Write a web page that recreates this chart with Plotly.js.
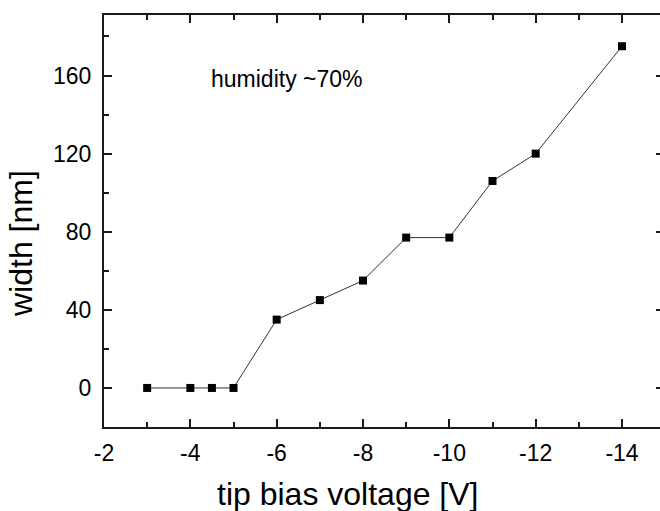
<!DOCTYPE html>
<html>
<head>
<meta charset="utf-8">
<script src="https://cdn.plot.ly/plotly-3.0.1.min.js"></script>
<style>
html, body { margin:0; padding:0; overflow:hidden; background:#fff; }
#chart { width:660px; height:511px; }
</style>
</head>
<body>
<div id="chart"></div>
<script>
// Data
const voltage = [-3, -4, -4.5, -5, -6, -7, -8, -9, -10, -11, -12, -14];
const width_nm = [0, 0, 0, 0, 35, 45, 55, 77, 77, 106, 120, 175];
const xTickVals = [-2, -4, -6, -8, -10, -12, -14];
const yTickVals = [0, 40, 80, 120, 160];
const xTitle = 'tip bias voltage [V]';
const yTitle = 'width [nm]';
const noteText = 'humidity ~70%';

const FONT = 'Liberation Sans, Arial, Helvetica, sans-serif';
const AX = '#1a1a1a';

const trace = {
  x: voltage,
  y: width_nm,
  type: 'scatter',
  mode: 'lines+markers',
  line: { color: '#333333', width: 1 },
  marker: { symbol: 'square', size: 8, color: '#000000' },
  showlegend: false,
  hoverinfo: 'x+y'
};

// carrier for the (cropped) right-hand axis ticks; draws no marks
const rightAxisCarrier = {
  x: voltage,
  y: width_nm,
  yaxis: 'y2',
  type: 'scatter',
  mode: 'none',
  showlegend: false,
  hoverinfo: 'skip'
};

const layout = {
  width: 660,
  height: 511,
  margin: { l: 104, r: 0, t: 15, b: 84 },
  paper_bgcolor: '#fff',
  plot_bgcolor: '#fff',
  font: { family: FONT, color: '#000' },
  xaxis: {
    range: [-2, -14.88],
    showgrid: false, zeroline: false,
    showline: true, linecolor: AX, linewidth: 2, mirror: 'ticks',
    ticks: 'inside', ticklen: 8, tickwidth: 2, tickcolor: AX,
    tickmode: 'array', tickvals: xTickVals, ticktext: xTickVals.map(String),
    tickfont: { family: FONT, size: 23, color: '#000' },
    ticklabelstandoff: 4,
    minor: { dtick: 1, tick0: -2, ticks: 'inside', ticklen: 5, tickwidth: 2, tickcolor: AX }
  },
  yaxis: {
    range: [-20, 191],
    showgrid: false, zeroline: false,
    showline: true, linecolor: AX, linewidth: 2, mirror: false,
    ticks: 'inside', ticklen: 8, tickwidth: 2, tickcolor: AX,
    tickmode: 'array', tickvals: yTickVals, ticktext: yTickVals.map(String),
    tickfont: { family: FONT, size: 23, color: '#000' },
    ticklabelstandoff: 6,
    minor: { dtick: 20, tick0: 0, ticks: 'inside', ticklen: 5, tickwidth: 2, tickcolor: AX }
  },
  yaxis2: {
    overlaying: 'y', side: 'right', anchor: 'x',
    range: [-20, 191],
    showgrid: false, zeroline: false, showline: false,
    ticks: 'inside', ticklen: 4, tickwidth: 2, tickcolor: AX,
    tickmode: 'array', tickvals: yTickVals,
    showticklabels: false
  },
  annotations: [
    {
      text: noteText, xref: 'x', yref: 'y', x: -6.24, y: 158,
      xanchor: 'center', yanchor: 'middle', showarrow: false,
      font: { family: FONT, size: 23, color: '#000' }
    },
    {
      text: xTitle, xref: 'paper', yref: 'paper', x: 0.4388, y: -0.1626,
      xanchor: 'center', yanchor: 'middle', showarrow: false,
      font: { family: FONT, size: 32, color: '#000' }
    },
    {
      text: yTitle, xref: 'paper', yref: 'paper', x: -0.1493, y: 0.4466,
      xanchor: 'center', yanchor: 'middle', showarrow: false, textangle: -90,
      font: { family: FONT, size: 32, color: '#000' }
    }
  ]
};

Plotly.newPlot('chart', [trace, rightAxisCarrier], layout, { displayModeBar: false, staticPlot: true });
</script>
</body>
</html>
